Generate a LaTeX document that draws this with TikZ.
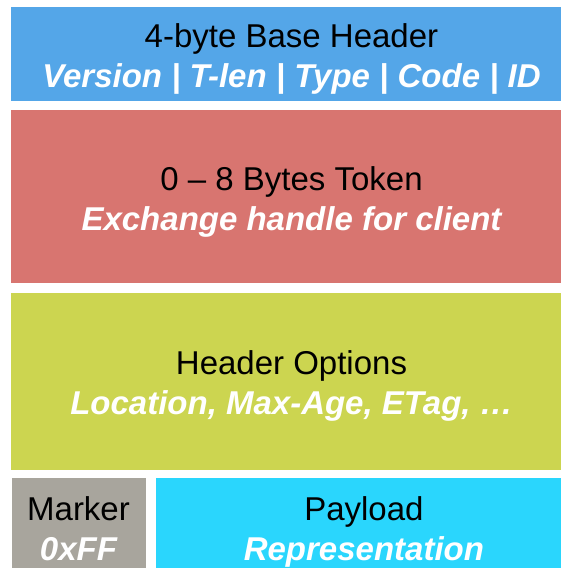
\documentclass[tikz,border=0pt]{standalone}
\usepackage{fontspec}
\setmainfont{Liberation Sans}
\usepackage{xcolor}
\usetikzlibrary{positioning}

\definecolor{hdrblue}{RGB}{84,166,232}
\definecolor{tokred}{RGB}{216,117,112}
\definecolor{optgreen}{RGB}{204,213,80}
\definecolor{mrkgray}{RGB}{168,165,157}
\definecolor{paycyan}{RGB}{42,214,253}

\newcommand{\fieldnote}[1]{\textcolor{white}{\bfseries\itshape #1}}

\begin{document}
\begin{tikzpicture}[x=1pt, y=-1pt,
  field/.style={rectangle, inner sep=0pt, align=center,
                font=\fontsize{33}{40}\selectfont,
                text height=74pt, text depth=7pt},
  node distance=9pt
]
  \clip (0,0) rectangle (561,568);
  \fill[white] (0,0) rectangle (561,568);

  \node[field, fill=hdrblue, minimum width=561pt, minimum height=94pt]
    (base) at (291.5,54) {4-byte Base Header\\ \fieldnote{Version | T-len | Type | Code | ID}};
  \node[field, fill=tokred, minimum width=561pt, minimum height=173pt,
        below=of base]
    (token) {0 – 8 Bytes Token\\ \fieldnote{Exchange handle for client}};
  \node[field, fill=optgreen, minimum width=561pt, minimum height=177pt,
        below=of token]
    (options) {Header Options\\ \fieldnote{Location, Max-Age, ETag, …}};

  \node[field, fill=mrkgray, minimum width=134pt, minimum height=99pt]
    (marker) at (78.5,527) {Marker\\ \fieldnote{0xFF}};
  \node[field, fill=paycyan, minimum width=416pt, minimum height=99pt,
        right=10pt of marker]
    (payload) {Payload\\ \fieldnote{Representation}};
\end{tikzpicture}
\end{document}
